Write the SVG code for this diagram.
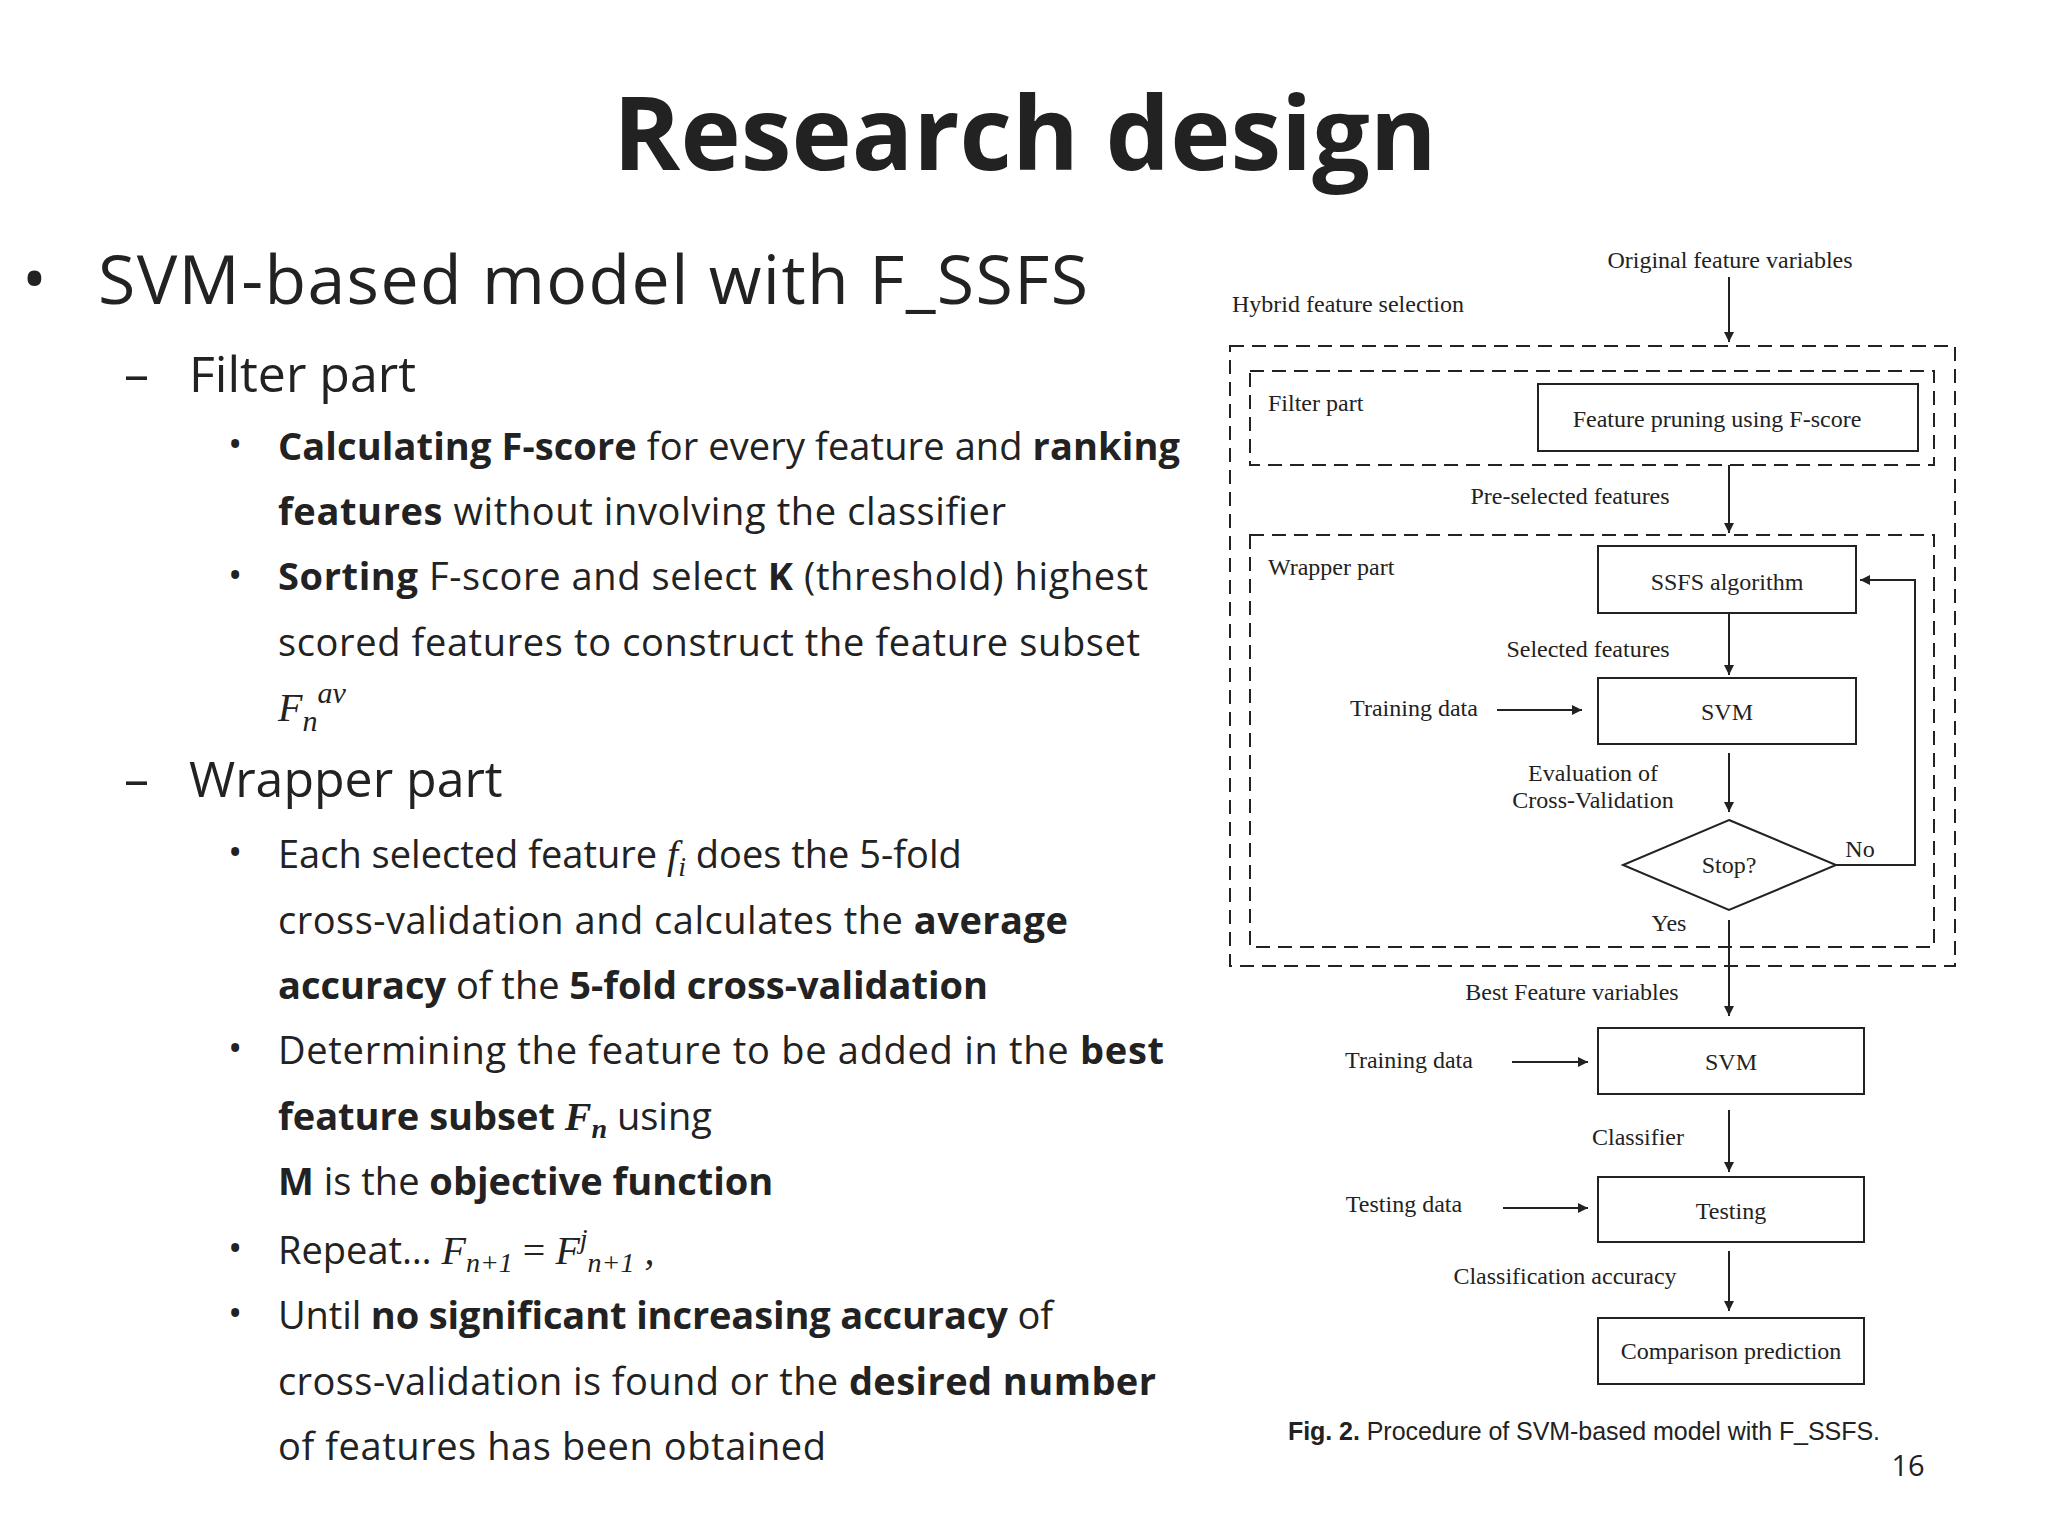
<svg xmlns="http://www.w3.org/2000/svg" width="2048" height="1536" viewBox="0 0 2048 1536">
<style>
.s{font-family:"Open Sans","Liberation Sans",sans-serif;fill:#222}
.b{font-weight:bold}
.m{font-family:"Liberation Serif",serif;font-style:italic}
.t{font-family:"Liberation Serif",serif;font-size:24px;fill:#222}
.box{fill:none;stroke:#222;stroke-width:2}
.dash{fill:none;stroke:#222;stroke-width:2;stroke-dasharray:14 8}
.ln{fill:none;stroke:#222;stroke-width:2}
.ar{fill:none;stroke:#222;stroke-width:2;marker-end:url(#ah)}
</style>
<defs><marker id="ah" viewBox="0 0 10 10" refX="10" refY="5" markerWidth="10" markerHeight="10" markerUnits="userSpaceOnUse" orient="auto"><path d="M0,0 L10,5 L0,10 z" fill="#222"/></marker></defs>
<rect width="2048" height="1536" fill="#fff"/>
<text x="1025" y="170" text-anchor="middle" class="s b" font-size="102" fill="#000">Research design</text>
<g class="s">
<text x="22" y="302" font-size="66">•</text>
<text x="98" y="304" font-size="68" textLength="990">SVM-based model with F_SSFS</text>
<text x="124" y="392" font-size="50">–</text>
<text x="189" y="392" font-size="50">Filter part</text>
<text x="124" y="797" font-size="50">–</text>
<text x="189" y="797" font-size="50">Wrapper part</text>
<g font-size="38">
<text x="228" y="458">•</text><text x="228" y="589">•</text><text x="228" y="866">•</text><text x="228" y="1062">•</text><text x="228" y="1262">•</text><text x="228" y="1327">•</text>
<text x="278" y="460" textLength="902"><tspan class="b">Calculating F-score</tspan> for every feature and <tspan class="b">ranking</tspan></text>
<text x="278" y="525" textLength="728"><tspan class="b">features</tspan> without involving the classifier</text>
<text x="278" y="590" textLength="870"><tspan class="b">Sorting</tspan> F-score and select <tspan class="b">K</tspan> (threshold) highest</text>
<text x="278" y="656" textLength="862">scored features to construct the feature subset</text>
<text x="278" y="721" class="m" font-size="40">F<tspan font-size="30" dy="10">n</tspan><tspan font-size="30" dy="-28">av</tspan></text>
<text x="278" y="868">Each selected feature <tspan class="m" font-size="40">f<tspan font-size="28" dy="8">i</tspan></tspan><tspan dy="-8"> does the 5-fold</tspan></text>
<text x="278" y="934" textLength="790">cross-validation and calculates the <tspan class="b">average</tspan></text>
<text x="278" y="999" textLength="710"><tspan class="b">accuracy</tspan> of the <tspan class="b">5-fold cross-validation</tspan></text>
<text x="278" y="1064" textLength="886">Determining the feature to be added in the <tspan class="b">best</tspan></text>
<text x="278" y="1130"><tspan class="b">feature subset </tspan><tspan class="m b" font-size="40">F<tspan font-size="28" dy="8">n</tspan></tspan><tspan dy="-8"> using</tspan></text>
<text x="278" y="1195"><tspan class="b">M</tspan> is the <tspan class="b">objective function</tspan></text>
<text x="278" y="1264">Repeat… <tspan class="m" font-size="40">F<tspan font-size="28" dy="8">n+1</tspan><tspan dy="-8" font-style="normal"> = </tspan>F<tspan font-size="28" dy="-16">j</tspan><tspan font-size="28" dy="24">n+1</tspan><tspan dy="-8"> ,</tspan></tspan></text>
<text x="278" y="1329" textLength="775">Until <tspan class="b">no significant increasing accuracy</tspan> of</text>
<text x="278" y="1395" textLength="878">cross-validation is found or the <tspan class="b">desired number</tspan></text>
<text x="278" y="1460" textLength="548">of features has been obtained</text>
</g>
</g>
<g id="containers">
<rect class="dash" x="1230" y="346" width="725" height="620"/>
<rect class="dash" x="1250" y="371" width="684" height="94"/>
<rect class="dash" x="1250" y="535" width="684" height="412"/>
<text class="t" x="1232" y="312">Hybrid feature selection</text>
<text class="t" x="1268" y="411">Filter part</text>
<text class="t" x="1268" y="575">Wrapper part</text>
</g>
<g id="n-fprune"><rect class="box" x="1538" y="384" width="380" height="67"/><text class="t" x="1717" y="427" text-anchor="middle">Feature pruning using F-score</text></g>
<g id="n-ssfs"><rect class="box" x="1598" y="546" width="258" height="67"/><text class="t" x="1727" y="590" text-anchor="middle">SSFS algorithm</text></g>
<g id="n-svm1"><rect class="box" x="1598" y="678" width="258" height="66"/><text class="t" x="1727" y="720" text-anchor="middle">SVM</text></g>
<g id="n-stop"><polygon class="box" points="1729,820 1836,865 1729,910 1623,865"/><text class="t" x="1729" y="873" text-anchor="middle">Stop?</text></g>
<g id="n-svm2"><rect class="box" x="1598" y="1028" width="266" height="66"/><text class="t" x="1731" y="1070" text-anchor="middle">SVM</text></g>
<g id="n-test"><rect class="box" x="1598" y="1177" width="266" height="65"/><text class="t" x="1731" y="1219" text-anchor="middle">Testing</text></g>
<g id="n-comp"><rect class="box" x="1598" y="1318" width="266" height="66"/><text class="t" x="1731" y="1359" text-anchor="middle">Comparison prediction</text></g>
<g id="connectors">
<line class="ar" x1="1729" y1="277" x2="1729" y2="342"/>
<line class="ar" x1="1729" y1="465" x2="1729" y2="533"/>
<line class="ar" x1="1729" y1="614" x2="1729" y2="675"/>
<line class="ar" x1="1497" y1="710" x2="1582" y2="710"/>
<line class="ar" x1="1729" y1="753" x2="1729" y2="812"/>
<polyline class="ar" points="1836,865 1915,865 1915,580 1860,580"/>
<line class="ar" x1="1729" y1="920" x2="1729" y2="1016"/>
<line class="ar" x1="1512" y1="1062" x2="1588" y2="1062"/>
<line class="ar" x1="1729" y1="1110" x2="1729" y2="1172"/>
<line class="ar" x1="1503" y1="1208" x2="1588" y2="1208"/>
<line class="ar" x1="1729" y1="1251" x2="1729" y2="1311"/>
<text class="t" x="1730" y="268" text-anchor="middle">Original feature variables</text>
<text class="t" x="1570" y="504" text-anchor="middle">Pre-selected features</text>
<text class="t" x="1588" y="657" text-anchor="middle">Selected features</text>
<text class="t" x="1414" y="716" text-anchor="middle">Training data</text>
<text class="t" x="1593" y="781" text-anchor="middle">Evaluation of</text>
<text class="t" x="1593" y="808" text-anchor="middle">Cross-Validation</text>
<text class="t" x="1860" y="857" text-anchor="middle">No</text>
<text class="t" x="1669" y="931" text-anchor="middle">Yes</text>
<text class="t" x="1572" y="1000" text-anchor="middle">Best Feature variables</text>
<text class="t" x="1409" y="1068" text-anchor="middle">Training data</text>
<text class="t" x="1638" y="1145" text-anchor="middle">Classifier</text>
<text class="t" x="1404" y="1212" text-anchor="middle">Testing data</text>
<text class="t" x="1565" y="1284" text-anchor="middle">Classification accuracy</text>
</g>
<text x="1288" y="1440" font-family="Liberation Sans Narrow,Liberation Sans,sans-serif" font-size="25" fill="#222" textLength="592"><tspan font-weight="bold">Fig. 2.</tspan> Procedure of SVM-based model with F_SSFS.</text>
<text x="1908" y="1476" text-anchor="middle" class="s" font-size="29" fill="#888">16</text>
</svg>
